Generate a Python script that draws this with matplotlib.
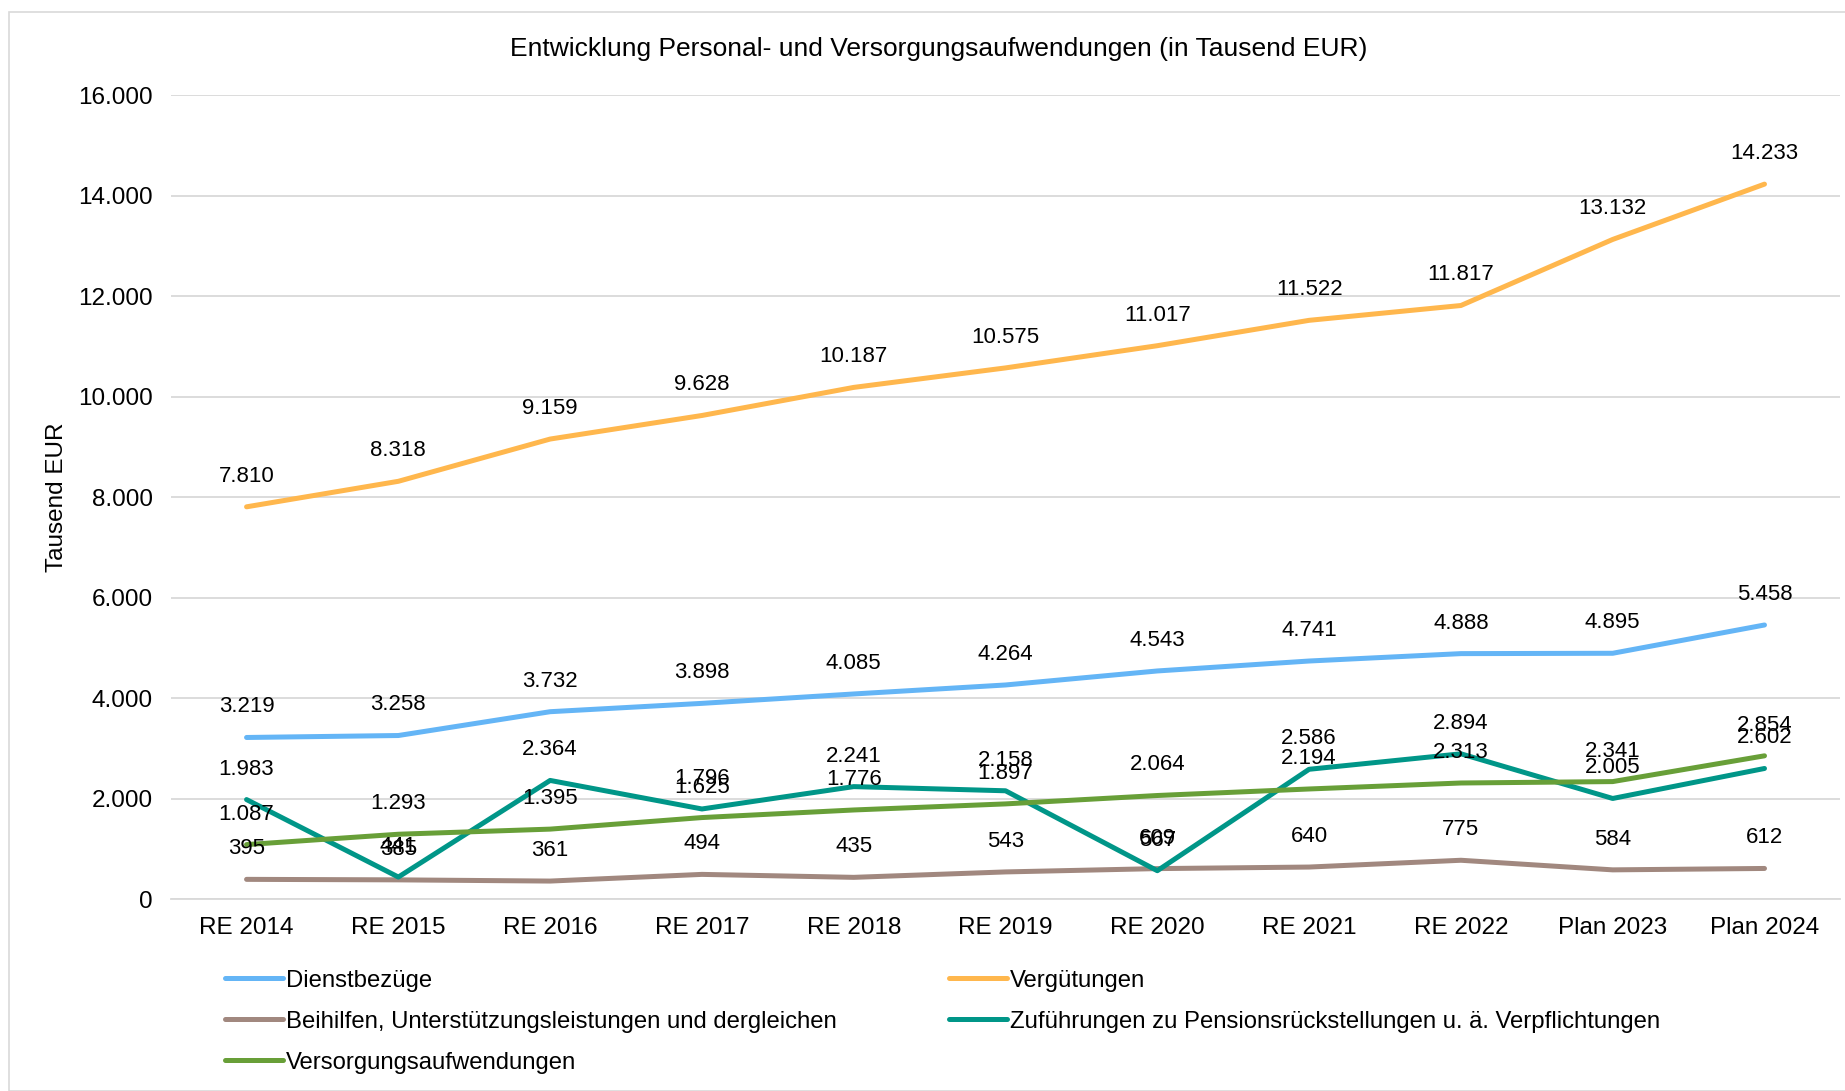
import matplotlib.pyplot as plt
from matplotlib.patches import Rectangle

plt.rcParams['font.family'] = ['Liberation Sans', 'DejaVu Sans']

# data (Tausend EUR)
years = ["RE 2014", "RE 2015", "RE 2016", "RE 2017", "RE 2018", "RE 2019",
         "RE 2020", "RE 2021", "RE 2022", "Plan 2023", "Plan 2024"]
dienstbezuege = [3219, 3258, 3732, 3898, 4085, 4264, 4543, 4741, 4888, 4895, 5458]
verguetungen = [7810, 8318, 9159, 9628, 10187, 10575, 11017, 11522, 11817, 13132, 14233]
beihilfen = [395, 385, 361, 494, 435, 543, 609, 640, 775, 584, 612]
zufuehrungen = [1983, 441, 2364, 1796, 2241, 2158, 567, 2586, 2894, 2005, 2602]
versorgung = [1087, 1293, 1395, 1625, 1776, 1897, 2064, 2194, 2313, 2341, 2854]

series = [
    ("Dienstbezüge", dienstbezuege, "#64B5F6"),
    ("Vergütungen", verguetungen, "#FFB74D"),
    ("Beihilfen, Unterstützungsleistungen und dergleichen", beihilfen, "#A1887F"),
    ("Zuführungen zu Pensionsrückstellungen u. ä. Verpflichtungen", zufuehrungen, "#009688"),
    ("Versorgungsaufwendungen", versorgung, "#689F38"),
]

def de(v):
    return f"{v:,}".replace(",", ".")

fig = plt.figure(figsize=(18.45, 10.91), dpi=100)
ax = fig.add_axes([0.0925, 0.1758, 0.905, 0.7368])

x = list(range(len(years)))
lines = []
for name, vals, col in series:
    ln, = ax.plot(x, vals, color=col, lw=3.6, label=name,
                  solid_capstyle='round', solid_joinstyle='round')
    lines.append(ln)
    for xi, v in zip(x, vals):
        ax.annotate(de(v), (xi, v), xytext=(0, 22), textcoords='offset points',
                    ha='center', va='center', fontsize=16, color='#000000')

ax.set_xlim(-0.5, len(years) - 0.5)
ax.set_ylim(0, 16000)
ax.set_yticks(range(0, 16001, 2000))
ax.set_yticklabels([de(v) for v in range(0, 16001, 2000)], fontsize=17.5)
ax.set_xticks(x)
ax.set_xticklabels(years, fontsize=17.5)
ax.tick_params(length=0, pad=13)
ax.tick_params(axis='y', pad=13)
ax.grid(axis='y', color='#D9D9D9', lw=1.3)
ax.set_axisbelow(True)
for s in ['top', 'right', 'left']:
    ax.spines[s].set_visible(False)
ax.spines['bottom'].set_color('#D9D9D9')
ax.spines['bottom'].set_linewidth(1.3)
ax.set_ylabel("Tausend EUR", fontsize=17.5, labelpad=7)

fig.text(0.509, 0.955, "Entwicklung Personal- und Versorgungsaufwendungen (in Tausend EUR)",
         ha='center', va='center', fontsize=19)

# row-wise legend order: column 1 = D, B, Vers; column 2 = Verg, Zuf
order = [0, 2, 4, 1, 3]
fig.legend([lines[i] for i in order], [series[i][0] for i in order],
           loc='upper left', bbox_to_anchor=(0.117, 0.12), ncol=2, frameon=False,
           fontsize=17.2, handlelength=2.4, handletextpad=0.15, columnspacing=4.7,
           labelspacing=0.8, borderaxespad=0)

fig.add_artist(Rectangle((0.005, 0.0), 0.999, 0.989, transform=fig.transFigure,
                         fill=False, edgecolor='#D9D9D9', lw=1.2))

fig.savefig("out.png", dpi=100)
